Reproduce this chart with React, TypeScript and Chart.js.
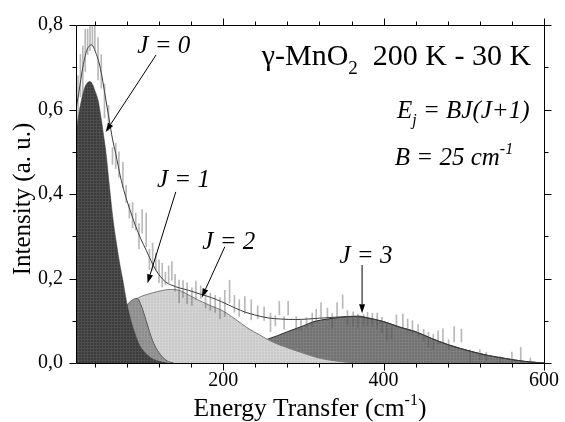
import React, { useEffect, useRef } from 'react';
import { Chart, registerables } from 'chart.js';

Chart.register(...registerables);

// Rotational components J = 0..3 (energy in cm^-1, intensity in a.u.)
const energyJ0 = [16.5, 20, 24, 28, 31, 34, 37, 40, 44, 47, 50, 54, 57, 60, 63, 66, 69, 72, 75, 80, 85, 90, 95, 100, 110, 120, 130];
const intensityJ0 = [0.545, 0.59, 0.628, 0.655, 0.664, 0.666, 0.66, 0.645, 0.622, 0.59, 0.551, 0.496, 0.44, 0.385, 0.335, 0.295, 0.258, 0.225, 0.195, 0.14, 0.1, 0.07, 0.045, 0.03, 0.012, 0.004, 0];

const energyJ1 = [50, 60, 70, 80, 86, 93, 98, 104, 108, 112, 118, 124, 130, 138];
const intensityJ1 = [0, 0.02, 0.07, 0.135, 0.148, 0.153, 0.135, 0.1, 0.075, 0.053, 0.03, 0.015, 0.005, 0];

const energyJ2 = [16.5, 40, 60, 80, 95, 112, 125, 134, 145, 157, 170, 185, 198, 215, 231, 245, 255, 270, 288, 305, 321, 340, 354, 380];
const intensityJ2 = [0.085, 0.1, 0.115, 0.135, 0.155, 0.166, 0.172, 0.174, 0.172, 0.161, 0.148, 0.135, 0.125, 0.104, 0.082, 0.067, 0.056, 0.043, 0.031, 0.02, 0.011, 0.005, 0.002, 0];

const energyJ3 = [100, 150, 200, 230, 255, 280, 300, 313, 330, 346, 365, 378, 400, 420, 440, 460, 481, 510, 530, 551, 575, 600];
const intensityJ3 = [0.005, 0.015, 0.03, 0.045, 0.056, 0.074, 0.088, 0.098, 0.104, 0.108, 0.11, 0.107, 0.098, 0.085, 0.074, 0.058, 0.043, 0.027, 0.018, 0.011, 0.004, 0];

// Total fitted curve
const energyFit = [16.5, 20, 25, 30, 36, 42, 46, 50, 54, 58, 62, 66, 72, 76, 81, 86, 91, 97, 104, 110, 116, 122, 128, 136, 145, 157, 170, 185, 198, 215, 228, 239, 255, 272, 290, 305, 320, 337, 355, 370, 378, 400, 420, 440, 460, 481, 510, 530, 551, 575, 600];
const intensityFit = [0.6, 0.64, 0.7, 0.74, 0.753, 0.73, 0.705, 0.666, 0.62, 0.575, 0.53, 0.496, 0.44, 0.41, 0.378, 0.35, 0.323, 0.295, 0.267, 0.242, 0.22, 0.204, 0.192, 0.184, 0.178, 0.172, 0.164, 0.155, 0.145, 0.13, 0.12, 0.114, 0.107, 0.104, 0.103, 0.104, 0.106, 0.108, 0.11, 0.111, 0.108, 0.098, 0.085, 0.074, 0.058, 0.043, 0.027, 0.018, 0.011, 0.004, 0];

// Measured points with their error bars
const dataEnergy = [19, 22, 25, 28, 31, 34, 37, 40, 44, 48, 52, 57, 62, 66, 70, 75, 79, 83, 87, 91, 95, 99, 104, 108, 112, 116, 120, 124, 128, 132, 136, 140, 145, 150, 155, 161, 166, 172, 178, 184, 190, 196, 202, 208, 214, 220, 227, 235, 243, 251, 259, 265, 270, 276, 281, 291, 297, 304, 311, 316, 322, 330, 336, 342, 349, 355, 362, 368, 375, 380, 386, 392, 398, 404, 410, 416, 424, 430, 436, 443, 450, 456, 462, 468, 474, 481, 488, 497, 508, 520, 528, 545, 560, 571, 583];
const dataIntensity = [0.62, 0.68, 0.69, 0.74, 0.76, 0.78, 0.79, 0.77, 0.72, 0.69, 0.62, 0.58, 0.49, 0.49, 0.47, 0.445, 0.4, 0.36, 0.35, 0.335, 0.3, 0.335, 0.315, 0.245, 0.252, 0.24, 0.217, 0.208, 0.2, 0.21, 0.218, 0.19, 0.169, 0.175, 0.165, 0.157, 0.172, 0.168, 0.15, 0.145, 0.14, 0.13, 0.141, 0.169, 0.14, 0.13, 0.137, 0.126, 0.12, 0.117, 0.096, 0.1, 0.13, 0.095, 0.13, 0.094, 0.09, 0.095, 0.102, 0.112, 0.125, 0.115, 0.1, 0.126, 0.145, 0.107, 0.104, 0.1, 0.101, 0.104, 0.102, 0.1, 0.09, 0.075, 0.072, 0.099, 0.1, 0.09, 0.085, 0.077, 0.066, 0.055, 0.05, 0.06, 0.065, 0.043, 0.068, 0.065, 0.016, 0.02, 0.015, 0.008, 0.013, 0.022, 0.006];
const dataError = [0.06, 0.05, 0.06, 0.05, 0.03, 0.04, 0.04, 0.03, 0.05, 0.04, 0.04, 0.03, 0.02, 0.03, 0.03, 0.03, 0.02, 0.017, 0.03, 0.02, 0.03, 0.028, 0.04, 0.024, 0.032, 0.02, 0.027, 0.028, 0.015, 0.02, 0.022, 0.02, 0.027, 0.02, 0.025, 0.021, 0.022, 0.015, 0.02, 0.02, 0.02, 0.025, 0.031, 0.027, 0.02, 0.02, 0.02, 0.024, 0.015, 0.016, 0.022, 0.012, 0.016, 0.015, 0.016, 0.016, 0.013, 0.012, 0.016, 0.015, 0.018, 0.015, 0.017, 0.017, 0.016, 0.017, 0.017, 0.016, 0.014, 0.016, 0.016, 0.018, 0.018, 0.02, 0.015, 0.015, 0.016, 0.014, 0.015, 0.014, 0.014, 0.018, 0.018, 0.016, 0.016, 0.012, 0.018, 0.015, 0.015, 0.012, 0.01, 0.008, 0.013, 0.015, 0.006];

// Axis ticks
const xMajorTicks = [200, 400, 600];
const xMinorTicks = [40, 80, 120, 160, 240, 280, 320, 360, 440, 480, 520, 560];
const yMajorTicks = [0, 0.2, 0.4, 0.6, 0.8];
const yMinorTicks = [0.1, 0.3, 0.5, 0.7];

const SERIF = '"Liberation Serif", "Times New Roman", serif';

const toPoints = (xs: number[], ys: number[]) => xs.map((x, i) => ({ x, y: ys[i] }));

function makePattern(base: string, grid: string) {
  const c = document.createElement('canvas');
  c.width = 3;
  c.height = 3;
  const g = c.getContext('2d')!;
  g.fillStyle = base;
  g.fillRect(0, 0, 3, 3);
  g.fillStyle = grid;
  g.fillRect(0, 0, 3, 1);
  g.fillRect(0, 0, 1, 3);
  const ctx = document.createElement('canvas').getContext('2d')!;
  return ctx.createPattern(c, 'repeat')!;
}

type Run = { t: string; sub?: boolean; sup?: boolean };

function drawRuns(ctx: CanvasRenderingContext2D, runs: Run[], x: number, y: number, align: 'left' | 'right' | 'center', size: number, italic: boolean) {
  const fontFor = (r: Run) => `${italic ? 'italic ' : ''}${r.sub || r.sup ? Math.round(size * 0.62) : size}px ${SERIF}`;
  let total = 0;
  for (const r of runs) {
    ctx.font = fontFor(r);
    total += ctx.measureText(r.t).width;
  }
  let cx = align === 'right' ? x - total : align === 'center' ? x - total / 2 : x;
  ctx.textAlign = 'left';
  ctx.textBaseline = 'alphabetic';
  for (const r of runs) {
    ctx.font = fontFor(r);
    const dy = r.sub ? size * 0.3 : r.sup ? -size * 0.42 : 0;
    ctx.fillText(r.t, cx, y + dy);
    cx += ctx.measureText(r.t).width;
  }
}

function arrow(ctx: CanvasRenderingContext2D, x1: number, y1: number, x2: number, y2: number) {
  const ang = Math.atan2(y2 - y1, x2 - x1);
  const head = 9;
  const half = 3;
  const bx = x2 - head * Math.cos(ang);
  const by = y2 - head * Math.sin(ang);
  ctx.beginPath();
  ctx.moveTo(x1, y1);
  ctx.lineTo(bx, by);
  ctx.stroke();
  ctx.beginPath();
  ctx.moveTo(x2, y2);
  ctx.lineTo(bx + half * Math.sin(ang), by - half * Math.cos(ang));
  ctx.lineTo(bx - half * Math.sin(ang), by + half * Math.cos(ang));
  ctx.closePath();
  ctx.fill();
}

const framePlugin = {
  id: 'frameTicks',
  afterDatasetsDraw(chart: any) {
    const { ctx, chartArea: a, scales } = chart;
    const x = scales.x;
    const y = scales.y;
    const L = Math.round(a.left) + 0.5;
    const R = Math.round(a.right) + 0.5;
    const T = Math.round(a.top) + 0.5;
    const B = Math.round(a.bottom) + 0.5;
    ctx.save();
    ctx.strokeStyle = '#000';
    ctx.lineWidth = 1;
    ctx.beginPath();
    ctx.rect(L, T, R - L, B - T);
    const tx = (v: number, len: number) => {
      const p = Math.round(x.getPixelForValue(v)) + 0.5;
      ctx.moveTo(p, B);
      ctx.lineTo(p, B + len);
      ctx.moveTo(p, T);
      ctx.lineTo(p, T - len);
    };
    const ty = (v: number, len: number) => {
      const p = Math.round(y.getPixelForValue(v)) + 0.5;
      ctx.moveTo(L, p);
      ctx.lineTo(L - len, p);
      ctx.moveTo(R, p);
      ctx.lineTo(R + len, p);
    };
    xMajorTicks.forEach((v) => tx(v, 7));
    xMinorTicks.forEach((v) => tx(v, 4));
    yMajorTicks.forEach((v) => ty(v, 7));
    yMinorTicks.forEach((v) => ty(v, 4));
    ctx.stroke();
    ctx.restore();
  },
};

const labelPlugin = {
  id: 'labels',
  afterDraw(chart: any) {
    const { ctx, scales, chartArea: a } = chart;
    const px = (v: number) => scales.x.getPixelForValue(v);
    const py = (v: number) => scales.y.getPixelForValue(v);
    ctx.save();
    ctx.fillStyle = '#000';
    ctx.strokeStyle = '#000';
    ctx.lineWidth = 1;

    // axis titles
    drawRuns(ctx, [{ t: 'Energy Transfer (cm' }, { t: '-1', sup: true }, { t: ')' }], (a.left + a.right) / 2, 416, 'center', 25.5, false);
    ctx.save();
    ctx.translate(30, (a.top + a.bottom) / 2 + 5);
    ctx.rotate(-Math.PI / 2);
    drawRuns(ctx, [{ t: 'Intensity (a. u.)' }], 0, 0, 'center', 25, false);
    ctx.restore();

    // sample and model
    drawRuns(ctx, [{ t: '\u03b3-MnO' }, { t: '2', sub: true }, { t: '  200 K - 30 K' }], px(584), py(0.705), 'right', 30, false);
    drawRuns(ctx, [{ t: 'E' }, { t: 'j', sub: true }, { t: ' = BJ(J+1)' }], px(582), py(0.58), 'right', 25, true);
    drawRuns(ctx, [{ t: 'B = 25 cm' }, { t: '-1', sup: true }], px(414), py(0.469), 'left', 25, true);

    // component labels with arrows
    drawRuns(ctx, [{ t: 'J = 0' }], px(93), py(0.734), 'left', 25, true);
    drawRuns(ctx, [{ t: 'J = 1' }], px(117.5), py(0.417), 'left', 25, true);
    drawRuns(ctx, [{ t: 'J = 2' }], px(174), py(0.27), 'left', 25, true);
    drawRuns(ctx, [{ t: 'J = 3' }], px(345), py(0.237), 'left', 25, true);

    arrow(ctx, px(116.3), py(0.729), px(53.5), py(0.547));
    arrow(ctx, px(140.9), py(0.405), px(105.6), py(0.189));
    arrow(ctx, px(202), py(0.275), px(173.3), py(0.155));
    arrow(ctx, px(373.2), py(0.232), px(373.2), py(0.118));
    ctx.restore();
  },
};

export default function App() {
  const ref = useRef<HTMLCanvasElement>(null);

  useEffect(() => {
    const canvas = ref.current!;
    const curve = (label: string, xs: number[], ys: number[], fill: any, border: string, width: number, order: number) => ({
      type: 'line' as const,
      label,
      data: toPoints(xs, ys),
      borderColor: border,
      borderWidth: width,
      backgroundColor: fill,
      fill: fill ? 'origin' : false,
      pointRadius: 0,
      cubicInterpolationMode: 'monotone' as const,
      order,
    });

    const chart = new Chart(canvas, {
      type: 'line',
      data: {
        datasets: [
          {
            type: 'bar',
            label: 'data',
            data: dataEnergy.map((x, i) => ({ x, y: [dataIntensity[i] - dataError[i], dataIntensity[i] + dataError[i]] })) as any,
            backgroundColor: 'rgba(80,80,80,0.4)',
            borderWidth: 0,
            barThickness: 1,
            order: 0,
          } as any,
          curve('fit', energyFit, intensityFit, null, '#3a3a3a', 1, 1),
          curve('J = 0', energyJ0, intensityJ0, makePattern('#3b3b3b', '#4e4e4e'), '#3b3b3b', 0.5, 2),
          curve('J = 1', energyJ1, intensityJ1, makePattern('#8c8c8c', '#989898'), '#5a5a5a', 1, 3),
          curve('J = 2', energyJ2, intensityJ2, makePattern('#c9c9c9', '#d4d4d4'), '#7a7a7a', 1, 4),
          curve('J = 3', energyJ3, intensityJ3, makePattern('#717171', '#7e7e7e'), '#2a2a2a', 1, 5),
        ],
      },
      options: {
        responsive: false,
        animation: false,
        events: [],
        layout: { padding: { left: 0, right: 15, top: 25, bottom: 0 } },
        plugins: { legend: { display: false }, tooltip: { enabled: false } },
        scales: {
          x: {
            type: 'linear',
            min: 16.5,
            max: 600,
            offset: false,
            grid: { display: false, drawTicks: false },
            border: { display: false },
            afterBuildTicks: (axis: any) => {
              axis.ticks = xMajorTicks.map((value) => ({ value }));
            },
            afterFit: (axis: any) => {
              axis.height = 59;
            },
            ticks: {
              padding: 6,
              color: '#000',
              font: { family: SERIF, size: 20 },
              callback: (v: any) => String(v),
              maxRotation: 0,
            },
          },
          y: {
            type: 'linear',
            min: 0,
            max: 0.8,
            grid: { display: false, drawTicks: false },
            border: { display: false },
            afterBuildTicks: (axis: any) => {
              axis.ticks = yMajorTicks.map((value) => ({ value }));
            },
            afterFit: (axis: any) => {
              axis.width = 76;
            },
            ticks: {
              padding: 13,
              color: '#000',
              font: { family: SERIF, size: 20 },
              callback: (v: any) => Number(v).toFixed(1).replace('.', ','),
            },
          },
        },
      },
      plugins: [framePlugin, labelPlugin],
    });
    return () => chart.destroy();
  }, []);

  return (
    <canvas
      ref={ref}
      width={565}
      height={422}
      style={{ position: 'absolute', left: 0, top: 0, display: 'block', background: '#fff' }}
    />
  );
}
